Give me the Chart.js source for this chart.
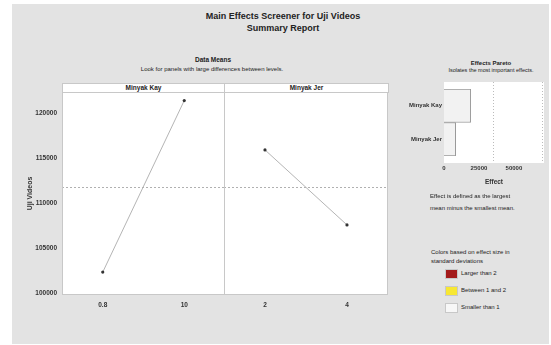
<!DOCTYPE html>
<html>
<head>
    <title>Main Effects Screener for Uji Videos</title>
    <script src="https://cdn.jsdelivr.net/npm/chart.js@4.4.5/dist/chart.umd.min.js"></script>
    <style>
        body { margin: 0; background: #fff; font-family: "Liberation Sans", Arial, sans-serif; color: #222; }
        #page { position: absolute; left: 12px; top: 4px; width: 537px; height: 340px; background: #e3e3e3; }
        .txt { position: absolute; white-space: nowrap; line-height: 1; }
        .c { transform: translateX(-50%); text-align: center; }
        .b { font-weight: bold; }
        canvas { position: absolute; }
        .strip { position: absolute; top: 83px; height: 8px; background: #fff; border: 1px solid #c8c8c8;
                 font-size: 6.5px; font-weight: bold; text-align: center; line-height: 8px; }
        .box { position: absolute; left: 445px; width: 11px; height: 8px; border: 1px solid #c8c8c8; }
    </style>
</head>
<body>
    <div id="page"></div>

    <div class="txt c b" style="left:283px; top:12px; font-size:9px;">Main Effects Screener for Uji Videos</div>
    <div class="txt c b" style="left:283px; top:24px; font-size:9px;">Summary Report</div>
    <div class="txt c b" style="left:213px; top:57px; font-size:6.5px;">Data Means</div>
    <div class="txt c" style="left:212px; top:66px; font-size:6px;">Look for panels with large differences between levels.</div>

    <div class="strip" style="left:62px; width:161px;">Minyak Kay</div>
    <div class="strip" style="left:224px; width:163px;">Minyak Jer</div>

    <canvas id="kayChart" width="225" height="225" style="left:0px; top:92px;"></canvas>
    <canvas id="jerChart" width="164" height="225" style="left:224px; top:92px;"></canvas>

    <div class="txt c b" style="left:491px; top:60px; font-size:6px;">Effects Pareto</div>
    <div class="txt c" style="left:491px; top:68px; font-size:5.5px;">Isolates the most important effects.</div>
    <canvas id="paretoChart" width="171" height="110" style="left:380px; top:80px;"></canvas>

    <div class="txt" style="left:430px; top:193px; font-size:6px;">Effect is defined as the largest</div>
    <div class="txt" style="left:430px; top:205px; font-size:6px;">mean minus the smallest mean.</div>

    <div class="txt" style="left:431px; top:249px; font-size:6px;">Colors based on effect size in</div>
    <div class="txt" style="left:431px; top:258px; font-size:6px;">standard deviations</div>
    <div class="box" style="top:269px; background:#a31a1a;"></div>
    <div class="txt" style="left:461px; top:270px; font-size:6px;">Larger than 2</div>
    <div class="box" style="top:286px; background:#f7e733;"></div>
    <div class="txt" style="left:461px; top:287px; font-size:6px;">Between 1 and 2</div>
    <div class="box" style="top:303px; background:#f7f7f7;"></div>
    <div class="txt" style="left:461px; top:304px; font-size:6px;">Smaller than 1</div>

    <script>
        // Data
        const kayLevels = ['0.8', '10'];
        const kayMeans = [102350, 121450];
        const jerLevels = ['2', '4'];
        const jerMeans = [115950, 107600];
        const grandMean = 111850;
        const yMin = 99800;
        const yMax = 122400;
        const yTicks = [100000, 105000, 110000, 115000, 120000];

        const factors = ['Minyak Kay', 'Minyak Jer'];
        const effects = [19100, 8350];
        const sdLines = [35000, 70000];
        const effectMax = 71500;
        const effectTicks = [0, 25000, 50000];

        const FONT = '"Liberation Sans", Arial, sans-serif';
        const tickFont = { family: FONT, size: 6.5, weight: 'bold' };

        // white plot area with grey frame
        const plotFrame = {
            id: 'plotFrame',
            beforeDraw(chart, args, opts) {
                const { ctx, chartArea: a } = chart;
                const ext = opts.extend || 0;
                ctx.save();
                ctx.fillStyle = '#fff';
                ctx.fillRect(a.left, a.top - ext, a.right - a.left, a.bottom - a.top + 2 * ext);
                ctx.restore();
            },
            afterDraw(chart, args, opts) {
                if (!opts.border) return;
                const { ctx, chartArea: a } = chart;
                ctx.save();
                ctx.strokeStyle = '#c8c8c8';
                ctx.lineWidth = 1;
                ctx.strokeRect(a.left + 0.5, a.top + 0.5, a.right - a.left - 1, a.bottom - a.top - 1);
                ctx.restore();
            }
        };

        // dashed line at the overall mean
        const meanLine = {
            id: 'meanLine',
            beforeDatasetsDraw(chart, args, opts) {
                if (opts.value === undefined) return;
                const { ctx, chartArea: a, scales } = chart;
                const y = Math.round(scales.y.getPixelForValue(opts.value)) + 0.5;
                ctx.save();
                ctx.strokeStyle = '#b0b0b0';
                ctx.lineWidth = 1;
                ctx.setLineDash([2, 2]);
                ctx.beginPath();
                ctx.moveTo(a.left, y);
                ctx.lineTo(a.right, y);
                ctx.stroke();
                ctx.restore();
            }
        };

        // dotted vertical lines at 1 and 2 standard deviations
        const sdMarks = {
            id: 'sdMarks',
            beforeDatasetsDraw(chart, args, opts) {
                if (!opts.values) return;
                const { ctx, chartArea: a, scales } = chart;
                const ext = opts.extend || 0;
                ctx.save();
                ctx.strokeStyle = '#bbbbbb';
                ctx.lineWidth = 1;
                ctx.setLineDash([1, 2]);
                opts.values.forEach(v => {
                    const x = Math.round(scales.x.getPixelForValue(v)) + 0.5;
                    ctx.beginPath();
                    ctx.moveTo(x, a.top - ext);
                    ctx.lineTo(x, a.bottom + ext);
                    ctx.stroke();
                });
                ctx.restore();
            }
        };

        function meansChart(id, labels, values, showY) {
            return new Chart(document.getElementById(id), {
                type: 'line',
                data: {
                    labels: labels,
                    datasets: [{
                        data: values,
                        borderColor: '#b5b5b5',
                        borderWidth: 1,
                        pointRadius: 1.6,
                        pointBackgroundColor: '#333',
                        pointBorderColor: '#333',
                        pointBorderWidth: 0
                    }]
                },
                plugins: [plotFrame, meanLine],
                options: {
                    responsive: false,
                    animation: false,
                    layout: { autoPadding: false, padding: { left: showY ? 26 : 0, right: 0, top: 0, bottom: 0 } },
                    plugins: {
                        legend: { display: false },
                        tooltip: { enabled: false },
                        plotFrame: { border: true },
                        meanLine: { value: grandMean }
                    },
                    scales: {
                        x: {
                            offset: true,
                            grid: { display: false, drawTicks: false },
                            border: { display: false },
                            ticks: { padding: 6, color: '#333', font: tickFont, maxRotation: 0 },
                            afterFit(s) { s.height = 22; s.paddingLeft = 0; s.paddingRight = 0; }
                        },
                        y: {
                            display: showY,
                            min: yMin,
                            max: yMax,
                            grid: { display: false, drawTicks: false },
                            border: { display: false },
                            ticks: {
                                padding: 5,
                                color: '#333',
                                font: tickFont,
                                callback: v => String(v)
                            },
                            afterBuildTicks(s) { s.ticks = yTicks.map(v => ({ value: v })); },
                            title: {
                                display: true,
                                text: 'Uji Videos',
                                color: '#333',
                                padding: 0,
                                font: { family: FONT, size: 7, weight: 'bold' }
                            },
                            afterFit(s) {
                                if (showY) s.width = 36;
                                s.paddingTop = 0;
                                s.paddingBottom = 0;
                            }
                        }
                    }
                }
            });
        }

        meansChart('kayChart', kayLevels, kayMeans, true);
        meansChart('jerChart', jerLevels, jerMeans, false);

        // Effects Pareto
        new Chart(document.getElementById('paretoChart'), {
            type: 'bar',
            data: {
                labels: factors,
                datasets: [{
                    data: effects,
                    backgroundColor: '#f2f2f2',
                    borderColor: '#9a9a9a',
                    borderWidth: 1,
                    barPercentage: 1,
                    categoryPercentage: 1
                }]
            },
            plugins: [plotFrame, sdMarks],
            options: {
                indexAxis: 'y',
                responsive: false,
                animation: false,
                layout: { autoPadding: false, padding: { left: 0, right: 7, top: 9, bottom: 0 } },
                plugins: {
                    legend: { display: false },
                    tooltip: { enabled: false },
                    plotFrame: { extend: 7 },
                    sdMarks: { values: sdLines, extend: 7 }
                },
                scales: {
                    x: {
                        min: 0,
                        max: effectMax,
                        grid: { display: false, drawTicks: false },
                        border: { display: false },
                        ticks: {
                            padding: 9,
                            maxRotation: 0,
                            autoSkip: false,
                            color: '#333',
                            font: { family: FONT, size: 6, weight: 'bold' },
                            callback: v => String(v)
                        },
                        afterBuildTicks(s) { s.ticks = effectTicks.map(v => ({ value: v })); },
                        title: {
                            display: true,
                            text: 'Effect',
                            color: '#333',
                            padding: { top: 0, bottom: 4 },
                            font: { family: FONT, size: 6.5, weight: 'bold' }
                        },
                        afterFit(s) { s.height = 34; s.paddingLeft = 0; s.paddingRight = 0; }
                    },
                    y: {
                        grid: { display: false, drawTicks: false },
                        border: { display: false },
                        ticks: { padding: 2, color: '#333', font: { family: FONT, size: 6, weight: 'bold' } },
                        afterFit(s) { s.width = 64; s.paddingTop = 0; s.paddingBottom = 0; }
                    }
                }
            }
        });
    </script>
</body>
</html>
